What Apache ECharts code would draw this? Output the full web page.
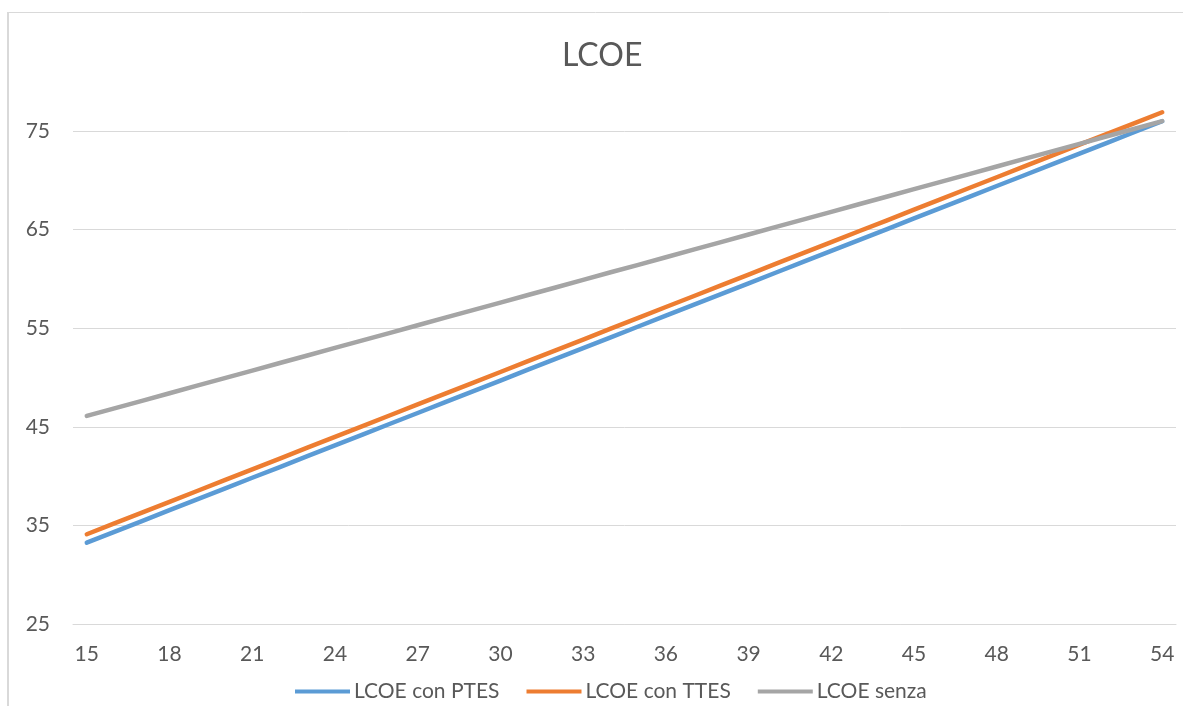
<!DOCTYPE html>
<html>
<head>
<meta charset="utf-8">
<script src="https://cdn.jsdelivr.net/npm/echarts@6/dist/echarts.min.js"></script>
<style>
  html, body { margin: 0; padding: 0; background: #ffffff; }
  #chart { width: 1183px; height: 706px; }
</style>
</head>
<body>
<div id="chart"></div>
<script>
// X categories: 15 .. 54
const categories = [
  15, 16, 17, 18, 19, 20, 21, 22, 23, 24,
  25, 26, 27, 28, 29, 30, 31, 32, 33, 34,
  35, 36, 37, 38, 39, 40, 41, 42, 43, 44,
  45, 46, 47, 48, 49, 50, 51, 52, 53, 54
];

const lcoePTES = [
  33.25, 34.35, 35.44, 36.54, 37.63, 38.73, 39.83, 40.92, 42.02, 43.11,
  44.21, 45.31, 46.40, 47.50, 48.59, 49.69, 50.79, 51.88, 52.98, 54.07,
  55.17, 56.27, 57.36, 58.46, 59.55, 60.65, 61.75, 62.84, 63.94, 65.03,
  66.13, 67.23, 68.32, 69.42, 70.51, 71.61, 72.71, 73.80, 74.90, 75.99
];

const lcoeTTES = [
  34.10, 35.20, 36.29, 37.39, 38.49, 39.59, 40.68, 41.78, 42.88, 43.98,
  45.07, 46.17, 47.27, 48.37, 49.46, 50.56, 51.66, 52.76, 53.85, 54.95,
  56.05, 57.15, 58.24, 59.34, 60.44, 61.54, 62.63, 63.73, 64.83, 65.92,
  67.02, 68.12, 69.22, 70.31, 71.41, 72.51, 73.61, 74.70, 75.80, 76.90
];

const lcoeSenza = [
  46.10, 46.87, 47.63, 48.40, 49.17, 49.93, 50.70, 51.47, 52.23, 53.00,
  53.77, 54.53, 55.30, 56.07, 56.83, 57.60, 58.37, 59.13, 59.90, 60.67,
  61.43, 62.20, 62.97, 63.73, 64.50, 65.27, 66.03, 66.80, 67.57, 68.33,
  69.10, 69.87, 70.63, 71.40, 72.17, 72.93, 73.70, 74.47, 75.23, 76.00
];

const seriesNames = ['LCOE con PTES', 'LCOE con TTES', 'LCOE senza'];
const seriesColors = ['#5B9BD5', '#ED7D31', '#A5A5A5'];
const seriesData = [lcoePTES, lcoeTTES, lcoeSenza];

const FONT = 'Lato, "Open Sans", sans-serif';
const TEXT_COLOR = '#595959';
const GRID_COLOR = '#d9d9d9';

const chart = echarts.init(document.getElementById('chart'), null, { renderer: 'canvas' });

chart.setOption({
  backgroundColor: '#ffffff',
  animation: false,
  title: {
    text: 'LCOE',
    left: 557,
    top: 35,
    textStyle: { fontFamily: FONT, fontSize: 32, fontWeight: 'normal', color: TEXT_COLOR }
  },
  legend: {
    top: 676,
    left: 290,
    icon: 'rect',
    itemWidth: 55,
    itemHeight: 4,
    itemGap: 27,
    textStyle: { fontFamily: FONT, fontSize: 21, color: TEXT_COLOR, padding: [0, 0, 0, -1] },
    data: seriesNames
  },
  grid: { left: 73, right: 7, top: 81.7, bottom: 82, containLabel: false },
  xAxis: {
    type: 'category',
    data: categories,
    boundaryGap: true,
    axisLine: { show: true, lineStyle: { color: GRID_COLOR, width: 1 } },
    axisTick: { show: false },
    axisLabel: {
      interval: 2,
      margin: 20,
      fontFamily: FONT,
      fontSize: 21,
      color: TEXT_COLOR
    },
    splitLine: { show: false }
  },
  yAxis: {
    type: 'value',
    min: 25,
    max: 80,
    interval: 10,
    axisLine: { show: false },
    axisTick: { show: false },
    axisLabel: {
      margin: 23,
      fontFamily: FONT,
      fontSize: 21,
      color: TEXT_COLOR,
      showMaxLabel: false
    },
    splitLine: { show: true, showMaxLine: false, lineStyle: { color: GRID_COLOR, width: 1 } }
  },
  graphic: [
    { type: 'line', shape: { x1: 8, y1: 12.5, x2: 1183, y2: 12.5 }, style: { stroke: GRID_COLOR, lineWidth: 1 }, silent: true },
    { type: 'line', shape: { x1: 8, y1: 12, x2: 8, y2: 706 }, style: { stroke: GRID_COLOR, lineWidth: 2 }, silent: true }
  ],
  series: seriesNames.map((name, i) => ({
    name: name,
    type: 'line',
    data: seriesData[i],
    showSymbol: false,
    symbol: 'none',
    color: seriesColors[i],
    lineStyle: { width: 4.5, cap: 'round', join: 'round', color: seriesColors[i] }
  }))
});
</script>
</body>
</html>
